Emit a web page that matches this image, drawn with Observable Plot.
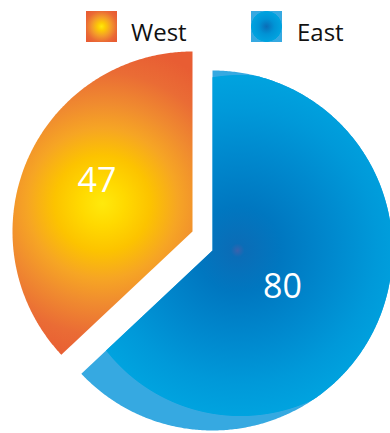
<!DOCTYPE html>
<html><head><meta charset="utf-8">
<script src="https://cdn.jsdelivr.net/npm/d3@7"></script>
<script src="https://cdn.jsdelivr.net/npm/@observablehq/plot@0.6"></script>
<style>
body{margin:0;background:#fff;font-family:"Open Sans",sans-serif;}
svg{display:block}
</style></head><body>
<div id="legend"></div>
<div id="chart"></div>
<script>
// ---- data ----
const categories = ["West", "East"];
const values = [47, 80];
const labels = ["47", "80"];

// ---- layout (pixels) ----
const layout = {
  width: 390, height: 385, legendHeight: 48,
  pxPerUnit: 180,               // pie radius in px
  origin: [202, 192.5],         // unexploded centre inside the svg
  explode: [[-10, 9.5], [10, -9.5]], // px, x right / y up
  labelRadius: [0.6, 0.44], labelShiftDeg: 4.5,
  grad: [
    {cx: -90, cy: 28, fx: -90, fy: 28, r: 160},
    {cx: 28, cy: 5, fx: 25, fy: 0, r: 171}
  ],
  legendX: [[86, 131], [251, 297]], legendSize: 31, legendTop: 11, legendBaseline: 41
};

// ---- styles ----
const styles = {
  West: {base: null, stops: [[0, "#FFE90C"], [0.14, "#FFD900"], [0.3, "#FCC300"], [0.47, "#F6A524"], [0.62, "#F08C2F"], [0.82, "#EA6C35"], [1, "#E85D33"]]},
  East: {base: "#36A9E1", stops: [[0, "#3A62AD"], [0.04, "#0A6DB7"], [0.25, "#0077C0"], [0.55, "#0089CE"], [0.8, "#0099D9"], [0.995, "#00A3DF"], [1, "rgba(0,163,223,0)"]]}
};

// ---- legend ----
const leg = d3.select("#legend").append("svg").attr("width", layout.width).attr("height", layout.legendHeight);
const ldefs = leg.append("defs");
const legGrad = {
  West: [[0, "#FFE90C"], [0.2, "#FDCB05"], [0.5, "#F39A2B"], [0.8, "#EA6A35"], [1, "#E85D33"]],
  East: [[0, "#0A6DB7"], [0.5, "#0093D5"], [0.97, "#00A3DF"], [1, "rgba(0,163,223,0)"]]
};
categories.forEach((c, i) => {
  const g = ldefs.append("radialGradient").attr("id", "lg-" + c).attr("cx", 0.5).attr("cy", 0.5).attr("r", c === "West" ? 0.62 : 0.5);
  legGrad[c].forEach(([o, col]) => g.append("stop").attr("offset", o).attr("stop-color", col));
  const [rx, tx] = layout.legendX[i];
  if (styles[c].base) leg.append("rect").attr("x", rx).attr("y", layout.legendTop).attr("width", layout.legendSize).attr("height", layout.legendSize).attr("fill", styles[c].base);
  leg.append("rect").attr("x", rx).attr("y", layout.legendTop).attr("width", layout.legendSize).attr("height", layout.legendSize).attr("fill", `url(#lg-${c})`);
  leg.append("text").attr("x", tx).attr("y", layout.legendBaseline).attr("font-size", 24).attr("fill", "#111").attr("font-family", "'Open Sans', sans-serif").text(c);
});

// ---- pie geometry from data ----
const U = layout.pxPerUnit;
const total = d3.sum(values);
const a0 = -2 * Math.PI * values[0] / total;
const arcs = d3.pie().sort(null).startAngle(a0).endAngle(a0 + 2 * Math.PI)(values);
const slices = categories.map((name, i) => {
  const {startAngle: s, endAngle: e} = arcs[i];
  const ex = layout.explode[i][0] / U, ey = layout.explode[i][1] / U;
  const n = Math.ceil((e - s) / (Math.PI / 360));
  const pts = [{name, x: ex, y: ey}];
  for (let k = 0; k <= n; k++) {
    const a = s + (e - s) * k / n;
    pts.push({name, x: ex + Math.sin(a), y: ey + Math.cos(a)});
  }
  pts.push({name, x: ex, y: ey});
  const mid = (s + e) / 2 + layout.labelShiftDeg * Math.PI / 180;
  const lr = layout.labelRadius[i];
  return {name, ex, ey, pts, label: {label: labels[i], x: ex + lr * Math.sin(mid), y: ey + lr * Math.cos(mid)}};
});

const [ox, oy] = layout.origin;
const W = layout.width, H = layout.height;
const marks = [];
slices.slice().reverse().forEach(sl => {
  if (styles[sl.name].base) marks.push(Plot.line(sl.pts, {x: "x", y: "y", fill: styles[sl.name].base, stroke: "none"}));
  marks.push(Plot.line(sl.pts, {x: "x", y: "y", fill: `url(#grad-${sl.name})`, stroke: "none"}));
});
marks.push(Plot.text(slices.map(s => s.label), {x: "x", y: "y", text: "label", fill: "white", fontSize: 34, textAnchor: "middle", lineAnchor: "middle"}));

const plot = Plot.plot({
  width: W, height: H, margin: 0,
  x: {domain: [-ox / U, (W - ox) / U], range: [0, W], axis: null},
  y: {domain: [-(H - oy) / U, oy / U], range: [H, 0], axis: null},
  style: {fontFamily: "'Open Sans', sans-serif", background: "white"},
  marks
});

// gradients positioned through the plot's scales
const xs = plot.scale("x"), ys = plot.scale("y");
const defs = d3.select(plot).insert("defs", ":first-child");
slices.forEach((sl, i) => {
  const g = layout.grad[i];
  const rg = defs.append("radialGradient").attr("id", "grad-" + sl.name).attr("gradientUnits", "userSpaceOnUse")
    .attr("cx", xs.apply(sl.ex + g.cx / U)).attr("cy", ys.apply(sl.ey + g.cy / U))
    .attr("fx", xs.apply(sl.ex + g.fx / U)).attr("fy", ys.apply(sl.ey + g.fy / U))
    .attr("r", g.r);
  styles[sl.name].stops.forEach(([o, c]) => rg.append("stop").attr("offset", o).attr("stop-color", c));
});
document.getElementById("chart").append(plot);
</script>
</body></html>
